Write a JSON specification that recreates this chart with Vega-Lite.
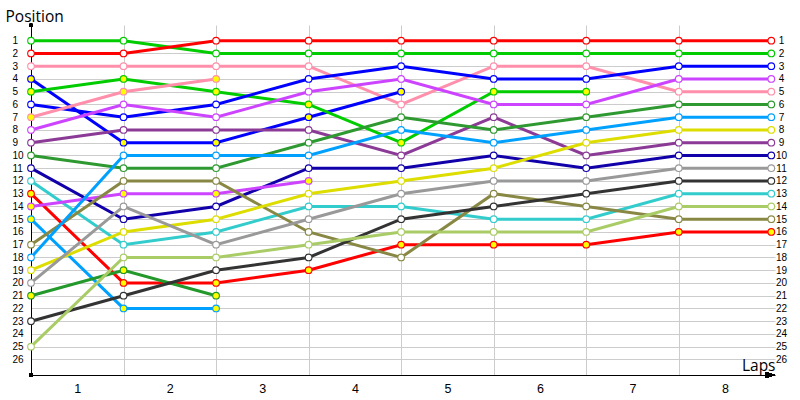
{
  "$schema": "https://vega.github.io/schema/vega-lite/v6.json",
  "width": 744,
  "height": 350,
  "autosize": "none",
  "padding": {"left": 31, "top": 25, "right": 25, "bottom": 25},
  "config": {"view": {"stroke": null}, "font": "Open Sans"},
  "datasets": {
    "laps": [
      {"driver":"Car 1","lap":0,"pos":1,"status":"lead"},{"driver":"Car 1","lap":1,"pos":1,"status":"lead"},{"driver":"Car 1","lap":2,"pos":2,"status":"lead"},{"driver":"Car 1","lap":3,"pos":2,"status":"lead"},{"driver":"Car 1","lap":4,"pos":2,"status":"lead"},{"driver":"Car 1","lap":5,"pos":2,"status":"lead"},{"driver":"Car 1","lap":6,"pos":2,"status":"lead"},{"driver":"Car 1","lap":7,"pos":2,"status":"lead"},{"driver":"Car 1","lap":8,"pos":2,"status":"lead"},
      {"driver":"Car 2","lap":0,"pos":2,"status":"lead"},{"driver":"Car 2","lap":1,"pos":2,"status":"lead"},{"driver":"Car 2","lap":2,"pos":1,"status":"lead"},{"driver":"Car 2","lap":3,"pos":1,"status":"lead"},{"driver":"Car 2","lap":4,"pos":1,"status":"lead"},{"driver":"Car 2","lap":5,"pos":1,"status":"lead"},{"driver":"Car 2","lap":6,"pos":1,"status":"lead"},{"driver":"Car 2","lap":7,"pos":1,"status":"lead"},{"driver":"Car 2","lap":8,"pos":1,"status":"lead"},
      {"driver":"Car 3","lap":0,"pos":3,"status":"lead"},{"driver":"Car 3","lap":1,"pos":3,"status":"lead"},{"driver":"Car 3","lap":2,"pos":3,"status":"lead"},{"driver":"Car 3","lap":3,"pos":3,"status":"lead"},{"driver":"Car 3","lap":4,"pos":6,"status":"lead"},{"driver":"Car 3","lap":5,"pos":3,"status":"lead"},{"driver":"Car 3","lap":6,"pos":3,"status":"lead"},{"driver":"Car 3","lap":7,"pos":5,"status":"lead"},{"driver":"Car 3","lap":8,"pos":5,"status":"lead"},
      {"driver":"Car 4","lap":0,"pos":4,"status":"lapped"},{"driver":"Car 4","lap":1,"pos":9,"status":"lapped"},{"driver":"Car 4","lap":2,"pos":9,"status":"lapped"},{"driver":"Car 4","lap":3,"pos":7,"status":"lapped"},{"driver":"Car 4","lap":4,"pos":5,"status":"lapped"},
      {"driver":"Car 5","lap":0,"pos":5,"status":"lapped"},{"driver":"Car 5","lap":1,"pos":4,"status":"lapped"},{"driver":"Car 5","lap":2,"pos":5,"status":"lapped"},{"driver":"Car 5","lap":3,"pos":6,"status":"lapped"},{"driver":"Car 5","lap":4,"pos":9,"status":"lapped"},{"driver":"Car 5","lap":5,"pos":5,"status":"lapped"},{"driver":"Car 5","lap":6,"pos":5,"status":"lapped"},
      {"driver":"Car 6","lap":0,"pos":6,"status":"lead"},{"driver":"Car 6","lap":1,"pos":7,"status":"lead"},{"driver":"Car 6","lap":2,"pos":6,"status":"lead"},{"driver":"Car 6","lap":3,"pos":4,"status":"lead"},{"driver":"Car 6","lap":4,"pos":3,"status":"lead"},{"driver":"Car 6","lap":5,"pos":4,"status":"lead"},{"driver":"Car 6","lap":6,"pos":4,"status":"lead"},{"driver":"Car 6","lap":7,"pos":3,"status":"lead"},{"driver":"Car 6","lap":8,"pos":3,"status":"lead"},
      {"driver":"Car 7","lap":0,"pos":7,"status":"lapped"},{"driver":"Car 7","lap":1,"pos":5,"status":"lapped"},{"driver":"Car 7","lap":2,"pos":4,"status":"lapped"},
      {"driver":"Car 8","lap":0,"pos":8,"status":"lead"},{"driver":"Car 8","lap":1,"pos":6,"status":"lead"},{"driver":"Car 8","lap":2,"pos":7,"status":"lead"},{"driver":"Car 8","lap":3,"pos":5,"status":"lead"},{"driver":"Car 8","lap":4,"pos":4,"status":"lead"},{"driver":"Car 8","lap":5,"pos":6,"status":"lead"},{"driver":"Car 8","lap":6,"pos":6,"status":"lead"},{"driver":"Car 8","lap":7,"pos":4,"status":"lead"},{"driver":"Car 8","lap":8,"pos":4,"status":"lead"},
      {"driver":"Car 9","lap":0,"pos":9,"status":"lead"},{"driver":"Car 9","lap":1,"pos":8,"status":"lead"},{"driver":"Car 9","lap":2,"pos":8,"status":"lead"},{"driver":"Car 9","lap":3,"pos":8,"status":"lead"},{"driver":"Car 9","lap":4,"pos":10,"status":"lead"},{"driver":"Car 9","lap":5,"pos":7,"status":"lead"},{"driver":"Car 9","lap":6,"pos":10,"status":"lead"},{"driver":"Car 9","lap":7,"pos":9,"status":"lead"},{"driver":"Car 9","lap":8,"pos":9,"status":"lead"},
      {"driver":"Car 10","lap":0,"pos":10,"status":"lead"},{"driver":"Car 10","lap":1,"pos":11,"status":"lead"},{"driver":"Car 10","lap":2,"pos":11,"status":"lead"},{"driver":"Car 10","lap":3,"pos":9,"status":"lead"},{"driver":"Car 10","lap":4,"pos":7,"status":"lead"},{"driver":"Car 10","lap":5,"pos":8,"status":"lead"},{"driver":"Car 10","lap":6,"pos":7,"status":"lead"},{"driver":"Car 10","lap":7,"pos":6,"status":"lead"},{"driver":"Car 10","lap":8,"pos":6,"status":"lead"},
      {"driver":"Car 11","lap":0,"pos":11,"status":"lead"},{"driver":"Car 11","lap":1,"pos":15,"status":"lead"},{"driver":"Car 11","lap":2,"pos":14,"status":"lead"},{"driver":"Car 11","lap":3,"pos":11,"status":"lead"},{"driver":"Car 11","lap":4,"pos":11,"status":"lead"},{"driver":"Car 11","lap":5,"pos":10,"status":"lead"},{"driver":"Car 11","lap":6,"pos":11,"status":"lead"},{"driver":"Car 11","lap":7,"pos":10,"status":"lead"},{"driver":"Car 11","lap":8,"pos":10,"status":"lead"},
      {"driver":"Car 12","lap":0,"pos":12,"status":"lead"},{"driver":"Car 12","lap":1,"pos":17,"status":"lead"},{"driver":"Car 12","lap":2,"pos":16,"status":"lead"},{"driver":"Car 12","lap":3,"pos":14,"status":"lead"},{"driver":"Car 12","lap":4,"pos":14,"status":"lead"},{"driver":"Car 12","lap":5,"pos":15,"status":"lead"},{"driver":"Car 12","lap":6,"pos":15,"status":"lead"},{"driver":"Car 12","lap":7,"pos":13,"status":"lead"},{"driver":"Car 12","lap":8,"pos":13,"status":"lead"},
      {"driver":"Car 13","lap":0,"pos":13,"status":"lapped"},{"driver":"Car 13","lap":1,"pos":20,"status":"lapped"},{"driver":"Car 13","lap":2,"pos":20,"status":"lapped"},{"driver":"Car 13","lap":3,"pos":19,"status":"lapped"},{"driver":"Car 13","lap":4,"pos":17,"status":"lapped"},{"driver":"Car 13","lap":5,"pos":17,"status":"lapped"},{"driver":"Car 13","lap":6,"pos":17,"status":"lapped"},{"driver":"Car 13","lap":7,"pos":16,"status":"lapped"},{"driver":"Car 13","lap":8,"pos":16,"status":"lapped"},
      {"driver":"Car 14","lap":0,"pos":14,"status":"lapped"},{"driver":"Car 14","lap":1,"pos":13,"status":"lapped"},{"driver":"Car 14","lap":2,"pos":13,"status":"lapped"},{"driver":"Car 14","lap":3,"pos":12,"status":"lapped"},
      {"driver":"Car 15","lap":0,"pos":15,"status":"lapped"},{"driver":"Car 15","lap":1,"pos":22,"status":"lapped"},{"driver":"Car 15","lap":2,"pos":22,"status":"lapped"},
      {"driver":"Car 17","lap":0,"pos":17,"status":"lead"},{"driver":"Car 17","lap":1,"pos":12,"status":"lead"},{"driver":"Car 17","lap":2,"pos":12,"status":"lead"},{"driver":"Car 17","lap":3,"pos":16,"status":"lead"},{"driver":"Car 17","lap":4,"pos":18,"status":"lead"},{"driver":"Car 17","lap":5,"pos":13,"status":"lead"},{"driver":"Car 17","lap":6,"pos":14,"status":"lead"},{"driver":"Car 17","lap":7,"pos":15,"status":"lead"},{"driver":"Car 17","lap":8,"pos":15,"status":"lead"},
      {"driver":"Car 18","lap":0,"pos":18,"status":"lead"},{"driver":"Car 18","lap":1,"pos":10,"status":"lead"},{"driver":"Car 18","lap":2,"pos":10,"status":"lead"},{"driver":"Car 18","lap":3,"pos":10,"status":"lead"},{"driver":"Car 18","lap":4,"pos":8,"status":"lead"},{"driver":"Car 18","lap":5,"pos":9,"status":"lead"},{"driver":"Car 18","lap":6,"pos":8,"status":"lead"},{"driver":"Car 18","lap":7,"pos":7,"status":"lead"},{"driver":"Car 18","lap":8,"pos":7,"status":"lead"},
      {"driver":"Car 19","lap":0,"pos":19,"status":"lead"},{"driver":"Car 19","lap":1,"pos":16,"status":"lead"},{"driver":"Car 19","lap":2,"pos":15,"status":"lead"},{"driver":"Car 19","lap":3,"pos":13,"status":"lead"},{"driver":"Car 19","lap":4,"pos":12,"status":"lead"},{"driver":"Car 19","lap":5,"pos":11,"status":"lead"},{"driver":"Car 19","lap":6,"pos":9,"status":"lead"},{"driver":"Car 19","lap":7,"pos":8,"status":"lead"},{"driver":"Car 19","lap":8,"pos":8,"status":"lead"},
      {"driver":"Car 20","lap":0,"pos":20,"status":"lead"},{"driver":"Car 20","lap":1,"pos":14,"status":"lead"},{"driver":"Car 20","lap":2,"pos":17,"status":"lead"},{"driver":"Car 20","lap":3,"pos":15,"status":"lead"},{"driver":"Car 20","lap":4,"pos":13,"status":"lead"},{"driver":"Car 20","lap":5,"pos":12,"status":"lead"},{"driver":"Car 20","lap":6,"pos":12,"status":"lead"},{"driver":"Car 20","lap":7,"pos":11,"status":"lead"},{"driver":"Car 20","lap":8,"pos":11,"status":"lead"},
      {"driver":"Car 21","lap":0,"pos":21,"status":"lapped"},{"driver":"Car 21","lap":1,"pos":19,"status":"lapped"},{"driver":"Car 21","lap":2,"pos":21,"status":"lapped"},
      {"driver":"Car 23","lap":0,"pos":23,"status":"lead"},{"driver":"Car 23","lap":1,"pos":21,"status":"lead"},{"driver":"Car 23","lap":2,"pos":19,"status":"lead"},{"driver":"Car 23","lap":3,"pos":18,"status":"lead"},{"driver":"Car 23","lap":4,"pos":15,"status":"lead"},{"driver":"Car 23","lap":5,"pos":14,"status":"lead"},{"driver":"Car 23","lap":6,"pos":13,"status":"lead"},{"driver":"Car 23","lap":7,"pos":12,"status":"lead"},{"driver":"Car 23","lap":8,"pos":12,"status":"lead"},
      {"driver":"Car 25","lap":0,"pos":25,"status":"lead"},{"driver":"Car 25","lap":1,"pos":18,"status":"lead"},{"driver":"Car 25","lap":2,"pos":18,"status":"lead"},{"driver":"Car 25","lap":3,"pos":17,"status":"lead"},{"driver":"Car 25","lap":4,"pos":16,"status":"lead"},{"driver":"Car 25","lap":5,"pos":16,"status":"lead"},{"driver":"Car 25","lap":6,"pos":16,"status":"lead"},{"driver":"Car 25","lap":7,"pos":14,"status":"lead"},{"driver":"Car 25","lap":8,"pos":14,"status":"lead"}
    ]
  },
  "data": {"name": "laps"},
  "resolve": {"axis": {"y": "independent"}},
  "layer": [
    {
      "mark": {"type": "line", "strokeWidth": 3},
      "encoding": {
        "x": {
          "field": "lap", "type": "quantitative",
          "scale": {"domain": [0, 8.04], "nice": false, "zero": false},
          "axis": {
            "values": [0.5, 1, 1.5, 2, 2.5, 3, 3.5, 4, 4.5, 5, 5.5, 6, 6.5, 7, 7.5],
            "labelExpr": "datum.value % 1 ? '' + (datum.value + 0.5) : ''",
            "labelOverlap": false, "labelFlush": false,
            "labelFont": "Liberation Sans", "labelFontSize": 12.5, "labelColor": "#000000", "labelPadding": 7,
            "ticks": false, "tickSize": 0,
            "domainColor": "#000000", "domainWidth": 1,
            "grid": true,
            "gridColor": {"condition": {"test": "datum.value % 1 == 0", "value": "#CCCCCC"}, "value": "rgba(0,0,0,0)"},
            "title": "Laps", "titleX": 744, "titleY": -5, "titleAlign": "right", "titleBaseline": "alphabetic",
            "titleFont": "Open Sans", "titleFontSize": 15.5, "titleFontWeight": "normal", "titleColor": "#000000"
          }
        },
        "y": {
          "field": "pos", "type": "quantitative",
          "scale": {"domain": [-0.23, 27.22], "reverse": true, "nice": false, "zero": false},
          "axis": {
            "orient": "left",
            "values": [1,2,3,4,5,6,7,8,9,10,11,12,13,14,15,16,17,18,19,20,21,22,23,24,25,26],
            "labelAlign": "left", "labelPadding": 19, "labelBaseline": "middle",
            "labelFont": "Liberation Sans", "labelFontSize": 10, "labelColor": "#000000",
            "ticks": false, "tickSize": 0,
            "domainColor": "#000000", "domainWidth": 1,
            "grid": true, "gridColor": "#CCCCCC", "gridWidth": 1,
            "title": "Position", "titleAngle": 0, "titleAlign": "left", "titleBaseline": "alphabetic",
            "titleX": -26, "titleY": -4,
            "titleFont": "Open Sans", "titleFontSize": 15.5, "titleFontWeight": "normal", "titleColor": "#000000"
          }
        },
        "color": {
          "field": "driver", "type": "nominal", "legend": null,
          "scale": {
            "domain": ["Car 1","Car 2","Car 3","Car 4","Car 5","Car 6","Car 7","Car 8","Car 9","Car 10","Car 11","Car 12","Car 13","Car 14","Car 15","Car 17","Car 18","Car 19","Car 20","Car 21","Car 23","Car 25"],
            "range": ["#00CC00","#FF0000","#FF8FAB","#0000FF","#00CC00","#0000FF","#FF8FAB","#CC44FF","#8B3A96","#2E9930","#1100AA","#33CCCC","#FF0000","#CC44FF","#00A0FF","#888844","#00A0FF","#DDDD00","#999999","#22992A","#333333","#AACC66"]
          }
        }
      }
    },
    {
      "mark": {"type": "point", "filled": true, "size": 44, "strokeWidth": 1.1, "opacity": 1},
      "encoding": {
        "x": {"field": "lap", "type": "quantitative"},
        "y": {
          "field": "pos", "type": "quantitative",
          "axis": {
            "orient": "right",
            "values": [1,2,3,4,5,6,7,8,9,10,11,12,13,14,15,16,17,18,19,20,21,22,23,24,25,26],
            "labelAlign": "center", "labelPadding": 6, "labelBaseline": "middle",
            "labelFont": "Liberation Sans", "labelFontSize": 10, "labelColor": "#000000",
            "ticks": false, "tickSize": 0, "domain": false, "grid": false, "title": null
          }
        },
        "stroke": {
          "field": "driver", "type": "nominal", "legend": null,
          "scale": {
            "domain": ["Car 1","Car 2","Car 3","Car 4","Car 5","Car 6","Car 7","Car 8","Car 9","Car 10","Car 11","Car 12","Car 13","Car 14","Car 15","Car 17","Car 18","Car 19","Car 20","Car 21","Car 23","Car 25"],
            "range": ["#00CC00","#FF0000","#FF8FAB","#0000FF","#00CC00","#0000FF","#FF8FAB","#CC44FF","#8B3A96","#2E9930","#1100AA","#33CCCC","#FF0000","#CC44FF","#00A0FF","#888844","#00A0FF","#DDDD00","#999999","#22992A","#333333","#AACC66"]
          }
        },
        "fill": {
          "field": "status", "type": "nominal", "legend": null,
          "scale": {"domain": ["lead", "lapped"], "range": ["#FFFFFF", "#FFFF00"]}
        }
      }
    },
    {
      "mark": {"type": "point", "filled": true, "size": 10, "color": "#000000", "opacity": 1},
      "encoding": {
        "x": {"datum": 0, "type": "quantitative"},
        "y": {"datum": -0.23, "type": "quantitative", "axis": null}
      }
    },
    {
      "mark": {"type": "point", "filled": true, "shape": "square", "size": 9, "color": "#000000", "opacity": 1},
      "encoding": {
        "x": {"datum": 0, "type": "quantitative"},
        "y": {"datum": 27.22, "type": "quantitative", "axis": null}
      }
    },
    {
      "mark": {"type": "point", "filled": true, "shape": "M-2,-0.6L0,0L-2,0.6Z", "size": 100, "color": "#000000", "opacity": 1},
      "encoding": {
        "x": {"datum": 8.04, "type": "quantitative"},
        "y": {"datum": 27.22, "type": "quantitative", "axis": null}
      }
    }
  ]
}
